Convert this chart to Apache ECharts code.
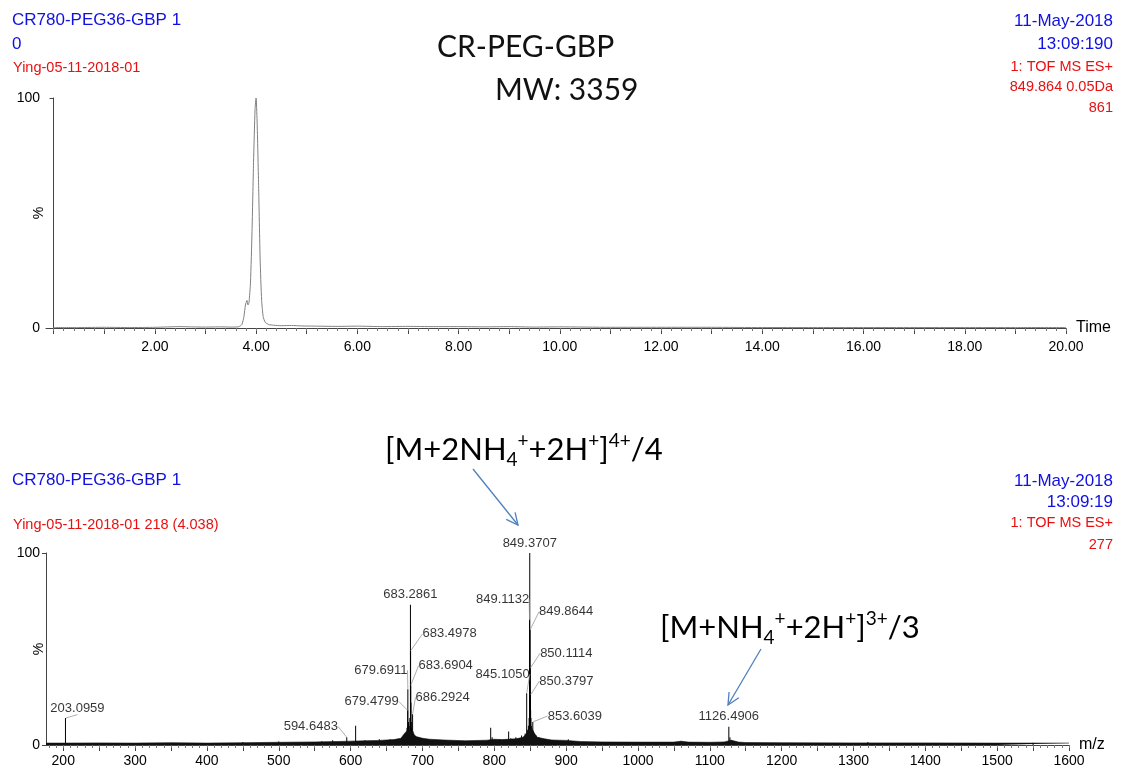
<!DOCTYPE html>
<html>
<head>
<meta charset="utf-8">
<script src="https://cdn.jsdelivr.net/npm/echarts@6/dist/echarts.min.js"></script>
<style>
  html, body { margin: 0; padding: 0; background: #fff; }
  #chart { width: 1121px; height: 776px; }
</style>
</head>
<body>
<div id="chart"></div>
<script>
// chromatogram, time (min) vs %
const ticTime = [0, 0.5, 1.0, 1.5, 2.0, 2.5, 2.7, 3.0, 3.3, 3.5, 3.65, 3.72, 3.76, 3.79, 3.82, 3.84, 3.86, 3.89, 3.92, 3.95, 3.98,
  4.00, 4.02, 4.05, 4.08, 4.11, 4.14, 4.18, 4.25, 4.35, 4.5, 4.7, 4.9, 5.2, 5.6, 6.0, 6.5, 7.0, 7.5, 8.0, 8.5, 9.0, 9.5,
  10, 11, 12, 13, 14, 15, 16, 17, 18, 19, 20];
const ticPct = [0.2, 0.2, 0.3, 0.2, 0.3, 0.6, 0.5, 0.4, 0.5, 0.4, 0.5, 1.5, 5, 10, 12, 10, 11, 20, 42, 72, 95,
  100, 90, 62, 30, 12, 5, 2.5, 1.5, 1.2, 1.0, 1.1, 0.9, 0.8, 0.7, 0.8, 0.6, 0.7, 0.6, 0.6, 0.5, 0.6, 0.4,
  0.5, 0.3, 0.3, 0.3, 0.2, 0.2, 0.2, 0.2, 0.2, 0.2, 0.2];
const timeLabels = [2, 4, 6, 8, 10, 12, 14, 16, 18, 20];

// labelled spectrum peaks (m/z, %)
const peakMz = [203.0959, 594.6483, 679.4799, 679.6911, 683.2861, 683.4978, 683.6904, 686.2924,
  845.1050, 849.1132, 849.3707, 849.8644, 850.1114, 850.3797, 853.6039, 1126.4906];
const peakPct = [14, 4, 18, 29, 73, 49, 31, 16, 27, 65, 100, 60, 40, 26, 12, 9.5];

// other sticks, unlabelled
const stickMz = [450, 500, 560, 575, 607.0, 620, 640, 655, 677.5, 678.5, 680.5, 681.5, 682.5, 684.0, 684.5, 685,
  687, 688, 690, 695, 700, 705, 712, 795.0, 797, 808, 820, 823, 830, 838, 843, 846, 847.5, 848.5, 850.6, 851,
  851.5, 852, 854.5, 856, 858, 862, 870, 880, 903, 1060, 1128, 1130, 1320, 1550];
const stickPct = [1.5, 1.8, 2, 2.5, 10, 2.5, 3, 3, 6, 9, 12, 10, 14, 22, 12, 9,
  7, 6, 5, 4, 3.5, 3, 2.5, 9, 4, 3, 7, 3.5, 4, 5, 6, 8, 10, 14, 18, 14,
  10, 8, 7, 6, 5, 4, 3, 2.5, 3, 2, 4, 2.5, 1.5, 1.2];

// grass level along the m/z axis
const noiseMz = [176, 200, 250, 300, 350, 400, 450, 500, 550, 580, 600, 620, 640, 660, 670, 675, 680, 685, 690, 700,
  710, 730, 760, 790, 800, 810, 830, 840, 845, 848, 852, 856, 860, 870, 880, 900, 920, 950, 1000, 1050, 1060, 1070,
  1100, 1120, 1130, 1140, 1150, 1200, 1300, 1400, 1500, 1600];
const noiseLvl = [1, 1, 1.1, 1, 1.2, 1, 1.2, 1.4, 1.6, 1.8, 2, 2.2, 2.4, 2.8, 3.5, 6, 8, 7, 4.5, 3.5,
  3, 2.6, 2.2, 2.5, 3, 2.8, 3.2, 4, 6, 8, 9, 6, 4, 3.2, 2.6, 2.4, 1.8, 1.6, 1.5, 1.5, 2, 1.5,
  1.4, 1.6, 2.5, 1.5, 1.3, 1.2, 1.1, 1.1, 1, 1];
const mzLabels = [200, 300, 400, 500, 600, 700, 800, 900, 1000, 1100, 1200, 1300, 1400, 1500, 1600];

// label placement (px, label centre relative to the peak top); null = straight above
const labelShift = [[12, -10], [-36, -11], [-36, -9], [-27, -19], null, [39, -17], [35, -20], [30, -17],
  [-24, -19], [-27, -21], null, [36, -18], [36, -15], [36, -14], [42, -6], null];

const chart = echarts.init(document.getElementById('chart'));

const axisFont = { fontFamily: 'Liberation Sans, Arial', fontSize: 14, color: '#000' };
const lineCol = '#444';

function range(a, b, step) {
  const out = [];
  for (let v = a; v <= b + 1e-9; v += step) out.push(+v.toFixed(3));
  return out;
}

function arrow(x1, y1, x2, y2) {
  const ang = Math.atan2(y2 - y1, x2 - x1);
  const len = 13, spread = 0.45;
  const p1 = [x2 - len * Math.cos(ang - spread), y2 - len * Math.sin(ang - spread)];
  const p2 = [x2 - len * Math.cos(ang + spread), y2 - len * Math.sin(ang + spread)];
  const st = { stroke: '#4f81bd', lineWidth: 1.3, fill: null };
  return [
    { type: 'line', shape: { x1, y1, x2, y2 }, style: st, silent: true },
    { type: 'polyline', shape: { points: [p1, [x2, y2], p2] }, style: st, silent: true }
  ];
}

function txt(x, y, text, color, size, align) {
  return {
    type: 'text', silent: true,
    style: { x, y, text, fill: color, textAlign: align || 'left', textVerticalAlign: 'middle',
      font: (size || 16) + 'px "Liberation Sans", Arial' }
  };
}

const annRich = {
  b: { fontFamily: 'Lato', fontSize: 31, color: '#111', lineHeight: 38, verticalAlign: 'middle' },
  sub: { fontFamily: 'Lato', fontSize: 19, color: '#111', lineHeight: 38, verticalAlign: 'bottom' },
  sup: { fontFamily: 'Lato', fontSize: 19, color: '#111', lineHeight: 36, verticalAlign: 'top' }
};

const blue = '#1010e0', red = '#e81010';

const graphics = [
  txt(12, 20, 'CR780-PEG36-GBP 1', blue, 17),
  txt(12, 44, '0', blue, 17),
  txt(13, 68, 'Ying-05-11-2018-01', red, 14.5),
  txt(1113, 21, '11-May-2018', blue, 17, 'right'),
  txt(1113, 44, '13:09:190', blue, 17, 'right'),
  txt(1113, 67, '1: TOF MS ES+', red, 14.5, 'right'),
  txt(1113, 87, '849.864 0.05Da', red, 14.5, 'right'),
  txt(1113, 108, '861', red, 14.5, 'right'),
  txt(12, 480, 'CR780-PEG36-GBP 1', blue, 17),
  txt(13, 525, 'Ying-05-11-2018-01 218 (4.038)', red, 14.5),
  txt(1113, 481, '11-May-2018', blue, 17, 'right'),
  txt(1113, 502, '13:09:19', blue, 17, 'right'),
  txt(1113, 523, '1: TOF MS ES+', red, 14.5, 'right'),
  txt(1113, 545, '277', red, 14.5, 'right'),
  { type: 'text', silent: true, style: { x: 437, y: 47, text: 'CR-PEG-GBP', fill: '#111', textVerticalAlign: 'middle', font: '30px Lato' } },
  { type: 'text', silent: true, style: { x: 495, y: 90, text: 'MW: 3359', fill: '#111', textVerticalAlign: 'middle', font: '30px Lato' } },
  { type: 'text', silent: true, style: { x: 385, y: 450, textVerticalAlign: 'middle', rich: annRich,
      text: '{b|[M+2NH}{sub|4}{sup|+}{b|+2H}{sup|+}{b|]}{sup|4+}{b|/4}' } },
  { type: 'text', silent: true, style: { x: 660, y: 628, textVerticalAlign: 'middle', rich: annRich,
      text: '{b|[M+NH}{sub|4}{sup|+}{b|+2H}{sup|+}{b|]}{sup|3+}{b|/3}' } }
].concat(arrow(473, 469, 518, 525), arrow(761, 649, 728, 705));

function xAxes(gridIndex, min, max, labels, major, minor, fmt, name, margin) {
  return [
    {
      type: 'value', gridIndex, min, max, position: 'bottom',
      name, nameLocation: 'end', nameGap: 10,
      nameTextStyle: { fontFamily: 'Liberation Sans, Arial', fontSize: 16, color: '#000', verticalAlign: 'middle' },
      axisLine: { show: true, onZero: false, lineStyle: { color: lineCol, width: 1 } },
      axisTick: { show: true, customValues: major, length: 6, lineStyle: { color: lineCol } },
      axisLabel: Object.assign({ customValues: labels, formatter: fmt, margin }, axisFont),
      splitLine: { show: false }
    },
    {
      type: 'value', gridIndex, min, max, position: 'bottom',
      axisLine: { show: false },
      axisTick: { show: true, customValues: minor, length: 3, lineStyle: { color: '#777' } },
      axisLabel: { show: false },
      splitLine: { show: false }
    }
  ];
}

function yAxis(gridIndex) {
  return {
    type: 'value', gridIndex, min: 0, max: 100, interval: 100,
    name: '%', nameLocation: 'middle', nameRotate: 90, nameGap: 0, nameMoveOverlap: false,
    nameTextStyle: { fontFamily: 'Liberation Sans, Arial', fontSize: 14, color: '#000' },
    axisLine: { show: true, lineStyle: { color: lineCol, width: 1 } },
    axisTick: { show: true, length: 4, lineStyle: { color: lineCol } },
    axisLabel: Object.assign({ margin: 6 }, axisFont),
    splitLine: { show: false }
  };
}

const tic = ticTime.map((t, i) => [t, ticPct[i]]);
const sticks = peakMz.map((m, i) => [m, peakPct[i]]).concat(stickMz.map((m, i) => [m, stickPct[i]]));
const noise = noiseMz.map((m, i) => [m, noiseLvl[i]]);
const labelled = peakMz.map((m, i) => ({
  value: [m, peakPct[i]],
  labelLine: { show: labelShift[i] !== null }
}));

chart.setOption({
  animation: false,
  backgroundColor: '#fff',
  graphic: graphics,
  grid: [
    { left: 46, right: 55, top: 98, height: 230, containLabel: false, outerBoundsMode: 'none' },
    { left: 46, right: 52, top: 553, height: 192, containLabel: false, outerBoundsMode: 'none' }
  ],
  xAxis: [].concat(
    xAxes(0, -0.15, 20, timeLabels, range(0, 20, 1), range(0, 20, 0.2), v => v.toFixed(2), 'Time', 12),
    xAxes(1, 176, 1600, mzLabels, range(200, 1600, 50), range(180, 1600, 10), v => String(v), 'm/z', 9)
  ),
  yAxis: [yAxis(0), yAxis(1)],
  series: [
    {
      name: 'TIC', type: 'line', xAxisIndex: 0, yAxisIndex: 0, data: tic,
      showSymbol: false, smooth: 0.2, lineStyle: { color: '#808080', width: 1 }
    },
    {
      name: 'noise', type: 'line', xAxisIndex: 2, yAxisIndex: 1, data: noise,
      showSymbol: false, lineStyle: { color: '#111', width: 0.6 },
      areaStyle: { color: '#111', opacity: 1 }
    },
    {
      name: 'sticks', type: 'bar', xAxisIndex: 2, yAxisIndex: 1, data: sticks,
      barWidth: 1, itemStyle: { color: '#000' }
    },
    {
      name: 'labels', type: 'scatter', xAxisIndex: 2, yAxisIndex: 1, data: labelled,
      symbolSize: 1, itemStyle: { color: 'transparent' },
      label: {
        show: true, position: 'inside',
        formatter: p => p.value[0].toFixed(4),
        fontFamily: 'Liberation Sans, Arial', fontSize: 13, color: '#000'
      },
      labelLine: { show: true, lineStyle: { color: '#999', width: 0.8 } },
      labelLayout: function (params) {
        const s = labelShift[params.dataIndex] || [0, -10];
        return { dx: s[0], dy: s[1], hideOverlap: false };
      }
    }
  ]
});

window.onresize = () => chart.resize();
</script>
</body>
</html>
